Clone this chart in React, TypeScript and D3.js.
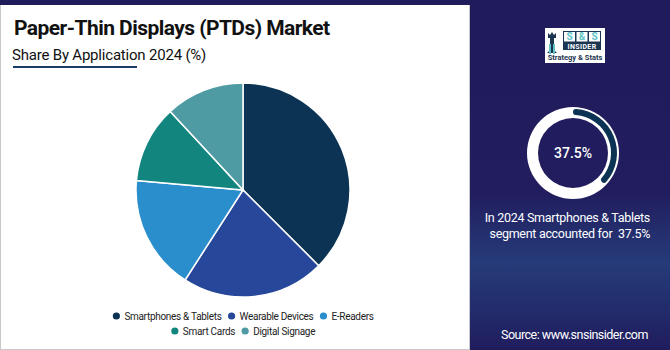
import React, { useRef, useEffect } from 'react';
import * as d3 from 'd3';

const categories = ['Smartphones & Tablets', 'Wearable Devices', 'E-Readers', 'Smart Cards', 'Digital Signage'];
const shares = [37.5, 21.6, 17.3, 11.7, 11.9];
const colors = ['#0c3354', '#27479a', '#2a8dcc', '#13857f', '#4f9ba4'];
const legendRows = [[0, 1, 2], [3, 4]];
const highlight = 37.5;

const W = 670;
const H = 350;

const App = () => {
  const ref = useRef<SVGSVGElement>(null);

  useEffect(() => {
    document.body.style.margin = '0';
    const svg = d3.select(ref.current);
    svg.selectAll('*').remove();

    const defs = svg.append('defs');
    const grad = defs.append('linearGradient')
      .attr('id', 'bg')
      .attr('x1', 0).attr('y1', 0).attr('x2', 0).attr('y2', 1);
    grad.append('stop').attr('offset', '0%').attr('stop-color', '#201b5b');
    grad.append('stop').attr('offset', '55%').attr('stop-color', '#211d5e');
    grad.append('stop').attr('offset', '75%').attr('stop-color', '#263b79');
    grad.append('stop').attr('offset', '90%').attr('stop-color', '#222a6a');
    grad.append('stop').attr('offset', '100%').attr('stop-color', '#201c5c');

    svg.append('rect').attr('width', W).attr('height', H).attr('fill', 'url(#bg)');

    // white panel
    svg.append('rect').attr('x', 0).attr('y', 5).attr('width', 470).attr('height', 345).attr('fill', '#c8c8cc');
    svg.append('rect').attr('x', 1).attr('y', 5).attr('width', 468).attr('height', 344).attr('fill', '#ffffff');

    svg.append('text')
      .attr('x', 14).attr('y', 35)
      .attr('font-family', 'Roboto, sans-serif')
      .attr('font-weight', 700)
      .attr('font-size', 21)
      .attr('letter-spacing', -0.55)
      .attr('fill', '#111')
      .text('Paper-Thin Displays (PTDs) Market');

    svg.append('text')
      .attr('x', 12).attr('y', 60)
      .attr('font-family', 'Roboto, sans-serif')
      .attr('font-size', 15)
      .attr('letter-spacing', -0.2)
      .attr('fill', '#111')
      .text('Share By Application 2024 (%)');

    svg.append('line')
      .attr('x1', 13).attr('x2', 137).attr('y1', 67).attr('y2', 67)
      .attr('stroke', '#1c3a66').attr('stroke-width', 2);

    // pie
    const cx = 243, cy = 190, r = 107;
    const pie = d3.pie<number>().sort(null).value(d => d);
    const arc = d3.arc<d3.PieArcDatum<number>>().innerRadius(0).outerRadius(r);
    svg.append('g')
      .attr('transform', `translate(${cx},${cy})`)
      .selectAll('path')
      .data(pie(shares))
      .enter()
      .append('path')
      .attr('d', arc)
      .attr('fill', (d, i) => colors[i])
      .attr('stroke', '#fff')
      .attr('stroke-width', 1.5);

    // legend
    const rowY = [316, 331];
    legendRows.forEach((row, ri) => {
      const g = svg.append('g');
      let x = 0;
      row.forEach(idx => {
        g.append('circle').attr('cx', x + 4).attr('cy', rowY[ri]).attr('r', 3.6).attr('fill', colors[idx]);
        const t = g.append('text')
          .attr('x', x + 12).attr('y', rowY[ri] + 3.5)
          .attr('font-family', 'Roboto, sans-serif')
          .attr('font-size', 10)
          .attr('letter-spacing', -0.3)
          .attr('fill', '#222')
          .text(categories[idx]);
        const w = (t.node() as SVGTextElement).getComputedTextLength();
        x += 12 + w + 6;
      });
      const total = x - 6;
      g.attr('transform', `translate(${cx - total / 2},0)`);
    });

    // logo
    const logo = svg.append('g');
    logo.append('rect').attr('x', 545).attr('y', 28).attr('width', 60).attr('height', 35).attr('fill', '#fff');
    logo.append('path')
      .attr('d', 'M548,33 L550,35 L552,32 L554,35 L556,33 L556,38 L554,38 L554,50 L557,53 L547,53 L550,50 L550,38 L548,38 Z')
      .attr('fill', '#1c3550');
    logo.append('rect').attr('x', 549).attr('y', 44).attr('width', 2).attr('height', 10).attr('fill', '#5fc3c6');
    logo.append('rect').attr('x', 553).attr('y', 44).attr('width', 2).attr('height', 10).attr('fill', '#5fc3c6');
    logo.append('rect').attr('x', 563).attr('y', 31).attr('width', 38).attr('height', 19).attr('fill', '#1c3550');
    ['S', '&', 'S'].forEach((s, i) => {
      logo.append('rect').attr('x', 564 + i * 12.5).attr('y', 32).attr('width', 11).attr('height', 9.5).attr('fill', '#fff');
      logo.append('text')
        .attr('x', 569.5 + i * 12.5).attr('y', 40)
        .attr('text-anchor', 'middle')
        .attr('font-family', 'Roboto, sans-serif')
        .attr('font-weight', 700)
        .attr('font-size', 10)
        .attr('fill', '#5fc3c6')
        .text(s);
    });
    logo.append('text')
      .attr('x', 582).attr('y', 49)
      .attr('text-anchor', 'middle')
      .attr('font-family', 'Roboto, sans-serif')
      .attr('font-weight', 700)
      .attr('font-size', 7)
      .attr('letter-spacing', 0.4)
      .attr('fill', '#fff')
      .text('INSIDER');
    logo.append('text')
      .attr('x', 575).attr('y', 59.5)
      .attr('text-anchor', 'middle')
      .attr('font-family', 'Roboto, sans-serif')
      .attr('font-weight', 700)
      .attr('font-size', 7.5)
      .attr('fill', '#1c3550')
      .text('Strategy & Stats');

    // donut
    const dcx = 573, dcy = 153;
    const dg = svg.append('g').attr('transform', `translate(${dcx},${dcy})`);
    dg.append('path')
      .attr('d', d3.arc()({ innerRadius: 35, outerRadius: 46, startAngle: 0, endAngle: 2 * Math.PI }) as string)
      .attr('fill', '#fff');
    const pScale = d3.scaleLinear().domain([0, 100]).range([0, 2 * Math.PI]);
    dg.append('path')
      .attr('d', d3.arc().cornerRadius(3)({ innerRadius: 38, outerRadius: 44, startAngle: 0, endAngle: pScale(highlight) }) as string)
      .attr('fill', '#0c3354');
    dg.append('text')
      .attr('y', 5)
      .attr('text-anchor', 'middle')
      .attr('font-family', 'Roboto, sans-serif')
      .attr('font-weight', 500)
      .attr('font-size', 14)
      .attr('fill', '#fff')
      .text(`${highlight}%`);

    const note = svg.append('text')
      .attr('text-anchor', 'end')
      .attr('font-family', 'Roboto, sans-serif')
      .attr('font-size', 12.5)
      .attr('letter-spacing', -0.3)
      .attr('fill', '#fff');
    note.append('tspan').attr('x', 650).attr('y', 222).text('In 2024 Smartphones & Tablets');
    note.append('tspan').attr('x', 650).attr('y', 238).text(`segment accounted for\u00a0 ${highlight}%`);

    svg.append('text')
      .attr('x', 501).attr('y', 339)
      .attr('font-family', 'Roboto, sans-serif')
      .attr('font-size', 12.5)
      .attr('letter-spacing', -0.5)
      .attr('fill', '#fff')
      .text('Source: www.snsinsider.com');
  }, []);

  return (
    <div style={{ position: 'absolute', left: 0, top: 0 }}>
      <svg ref={ref} width={W} height={H} style={{ display: 'block' }}></svg>
    </div>
  );
};

export default App;
